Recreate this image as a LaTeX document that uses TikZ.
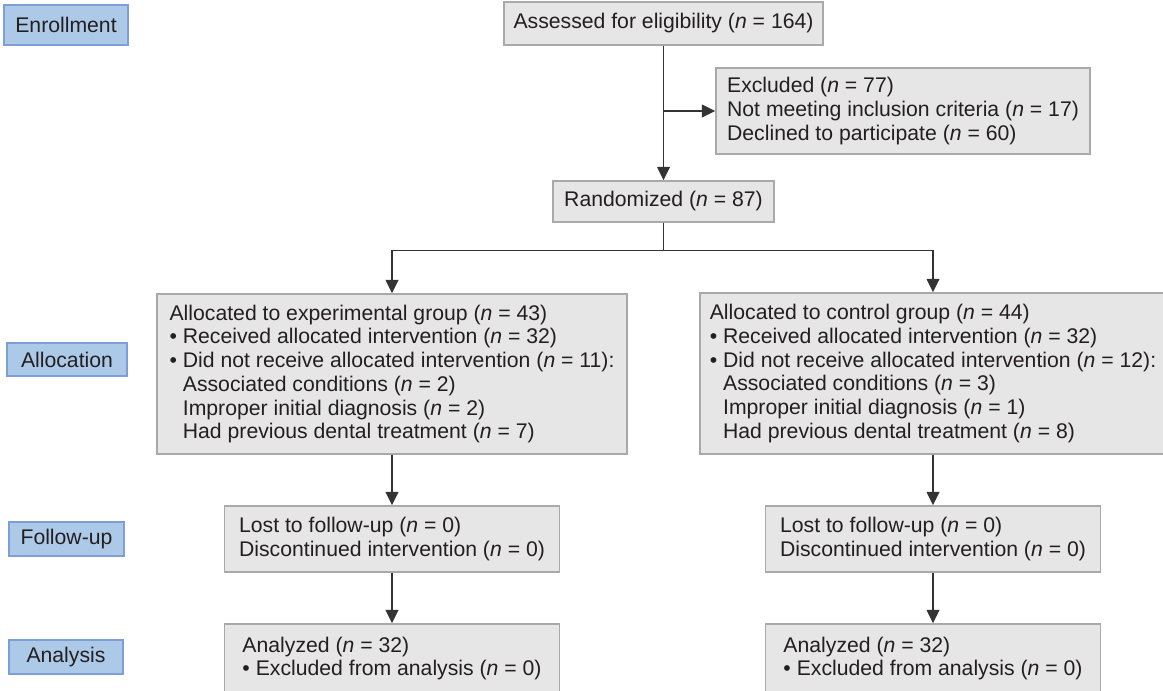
\documentclass[tikz,border=0pt]{standalone}
\usepackage{fontspec}
\setmainfont{Liberation Sans}
\usetikzlibrary{arrows.meta}
\definecolor{boxfill}{HTML}{E6E6E6}
\definecolor{boxedge}{HTML}{A9A9A9}
\definecolor{stagefill}{HTML}{ADC9E8}
\definecolor{stageedge}{HTML}{7F9ED8}
\definecolor{inkgray}{HTML}{333333}
\definecolor{textgray}{HTML}{231F20}
\tikzset{
 flow/.style={draw=boxedge, fill=boxfill, line width=1.1pt, inner sep=0pt,
  align=left, text=textgray, font=\fontsize{15.9}{17.8}\selectfont},
 stage/.style={draw=stageedge, fill=stagefill, line width=1.1pt, inner sep=0pt,
  text=textgray, font=\fontsize{15.9}{17.8}\selectfont},
 link/.style={draw=inkgray, line width=1.1pt},
 arrow/.style={link, -{Triangle[length=10pt,width=9.5pt]}},
}
\newcommand{\nn}{\textit{n}}
\newcommand{\indentbul}{\phantom{• }}

\begin{document}
\begin{tikzpicture}[x=0.75pt,y=-0.75pt]
    \useasboundingbox (0,0) rectangle (1163,690);
    % stage labels
    \node[stage, minimum width=124*0.75pt, minimum height=40*0.75pt] (enrol) at (66,25) {Enrollment};
    \node[stage, minimum width=120*0.75pt, minimum height=33*0.75pt] (alloc) at (67,359.5) {Allocation};
    \node[stage, minimum width=115*0.75pt, minimum height=34*0.75pt] (follow) at (66.5,539) {Follow-up};
    \node[stage, minimum width=114*0.75pt, minimum height=34*0.75pt] (analysis) at (66,657) {Analysis};
    % flow boxes
    \node[flow, minimum width=319*0.75pt, minimum height=43*0.75pt] (assess) at (663.5,23.5)
        {Assessed for eligibility (\nn{} = 164)};
    \node[flow, minimum width=374*0.75pt, minimum height=86*0.75pt] (excl) at (903,111)
        {Excluded (\nn{} = 77)\\Not meeting inclusion criteria (\nn{} = 17)\\Declined to participate (\nn{} = 60)};
    \node[flow, minimum width=221*0.75pt, minimum height=41*0.75pt] (rand) at (663.5,201.5)
        {Randomized (\nn{} = 87)};
    \node[flow, minimum width=470*0.75pt, minimum height=160*0.75pt] (expgrp) at (392,374)
        {Allocated to experimental group (\nn{} = 43)\\
         • Received allocated intervention (\nn{} = 32)\\
         • Did not receive allocated intervention (\nn{} = 11):\\
         \indentbul Associated conditions (\nn{} = 2)\\
         \indentbul Improper initial diagnosis (\nn{} = 2)\\
         \indentbul Had previous dental treatment (\nn{} = 7)};
    \node[flow, minimum width=466*0.75pt, minimum height=161*0.75pt] (ctlgrp) at (933,373.5)
        {Allocated to control group (\nn{} = 44)\\
         • Received allocated intervention (\nn{} = 32)\\
         • Did not receive allocated intervention (\nn{} = 12):\\
         \indentbul Associated conditions (\nn{} = 3)\\
         \indentbul Improper initial diagnosis (\nn{} = 1)\\
         \indentbul Had previous dental treatment (\nn{} = 8)};
    \node[flow, minimum width=335*0.75pt, minimum height=66*0.75pt] (expfu) at (392,539)
        {Lost to follow-up (\nn{} = 0)\\Discontinued intervention (\nn{} = 0)};
    \node[flow, minimum width=335*0.75pt, minimum height=66*0.75pt] (ctlfu) at (933,539)
        {Lost to follow-up (\nn{} = 0)\\Discontinued intervention (\nn{} = 0)};
    \node[flow, minimum width=335*0.75pt, minimum height=69*0.75pt] (expan) at (392,658.5)
        {Analyzed (\nn{} = 32)\\• Excluded from analysis (\nn{} = 0)};
    \node[flow, minimum width=335*0.75pt, minimum height=69*0.75pt] (ctlan) at (933,658.5)
        {Analyzed (\nn{} = 32)\\• Excluded from analysis (\nn{} = 0)};
    % connectors
    \draw[arrow] (assess.south) -- (rand.north);
    \coordinate (branch) at (assess.south |- excl.west);
    \draw[arrow] (branch) -- (excl.west);
    \draw[link] (rand.south) -- ++(0,28) coordinate (fork);
    \draw[arrow] (fork) -| (expgrp.north);
    \draw[arrow] (fork) -| (ctlgrp.north);
    \draw[arrow] (expgrp.south) -- (expfu.north);
    \draw[arrow] (ctlgrp.south) -- (ctlfu.north);
    \draw[arrow] (expfu.south) -- (expan.north);
    \draw[arrow] (ctlfu.south) -- (ctlan.north);
\end{tikzpicture}
\end{document}
